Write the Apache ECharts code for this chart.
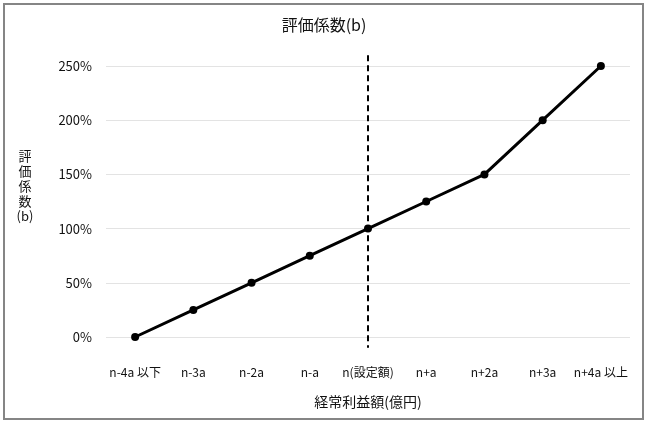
<!DOCTYPE html>
<html>
<head>
<meta charset="utf-8">
<script src="https://cdn.jsdelivr.net/npm/echarts@6/dist/echarts.min.js"></script>
<style>
html,body{margin:0;padding:0;background:#fff;}
#c{width:648px;height:424px;}
</style>
</head>
<body>
<div id="c"></div>
<script>
var categories = ['n-4a 以下','n-3a','n-2a','n-a','n(設定額)','n+a','n+2a','n+3a','n+4a 以上'];
var coefValues = [0, 0.25, 0.5, 0.75, 1.0, 1.25, 1.5, 2.0, 2.5];
var yTicks = [0, 0.5, 1.0, 1.5, 2.0, 2.5];
var refCategoryIndex = 4;
var refLineRange = [2.6, -0.1];

var FONT = '"Noto Sans CJK JP", "Noto Sans", sans-serif';
var chart = echarts.init(document.getElementById('c'), null, {renderer:'canvas'});
chart.setOption({
  backgroundColor: '#ffffff',
  textStyle: {fontFamily: FONT},
  title: {
    text: '評価係数(b)',
    left: 'center',
    top: 12,
    textStyle: {fontFamily: FONT, fontSize: 16, fontWeight: 'normal', color: '#111'}
  },
  graphic: [{
    type: 'rect',
    shape: {x: 4, y: 4, width: 639, height: 415},
    style: {fill: 'none', stroke: '#858585', lineWidth: 2},
    silent: true, z: 100
  }],
  grid: {left: 106, right: 18, top: 66, bottom: 87},
  xAxis: {
    type: 'category',
    data: categories,
    boundaryGap: true,
    axisLine: {show: false},
    axisTick: {show: false},
    axisLabel: {color: '#111', fontSize: 12, margin: 29, fontFamily: FONT, interval: 0},
    name: '経常利益額(億円)',
    nameLocation: 'middle',
    nameGap: 58,
    nameTextStyle: {color: '#111', fontSize: 14, fontFamily: FONT}
  },
  yAxis: {
    type: 'value',
    min: yTicks[0],
    max: yTicks[yTicks.length - 1],
    interval: 0.5,
    axisLine: {show: false},
    axisTick: {show: false},
    splitLine: {lineStyle: {color: '#e3e3e3', width: 1}},
    axisLabel: {
      color: '#111', fontSize: 13, margin: 14, fontFamily: FONT,
      formatter: function (v) { return Math.round(v * 100) + '%'; }
    },
    name: '評\n価\n係\n数\n(b)\n \n ',
    nameLocation: 'middle',
    nameRotate: 0,
    nameGap: 81,
    nameTextStyle: {color: '#111', fontSize: 13, lineHeight: 15, fontFamily: FONT, align: 'center'}
  },
  series: [{
    type: 'line',
    data: coefValues,
    symbol: 'circle',
    symbolSize: 8,
    lineStyle: {color: '#000', width: 3},
    itemStyle: {color: '#000'},
    animation: false,
    z: 3
  }, {
    type: 'line',
    data: [[refCategoryIndex, refLineRange[0]], [refCategoryIndex, refLineRange[1]]],
    symbol: 'none',
    clip: false,
    lineStyle: {color: '#000', width: 2, type: [6, 4]},
    animation: false,
    z: 2
  }]
});
</script>
</body>
</html>
